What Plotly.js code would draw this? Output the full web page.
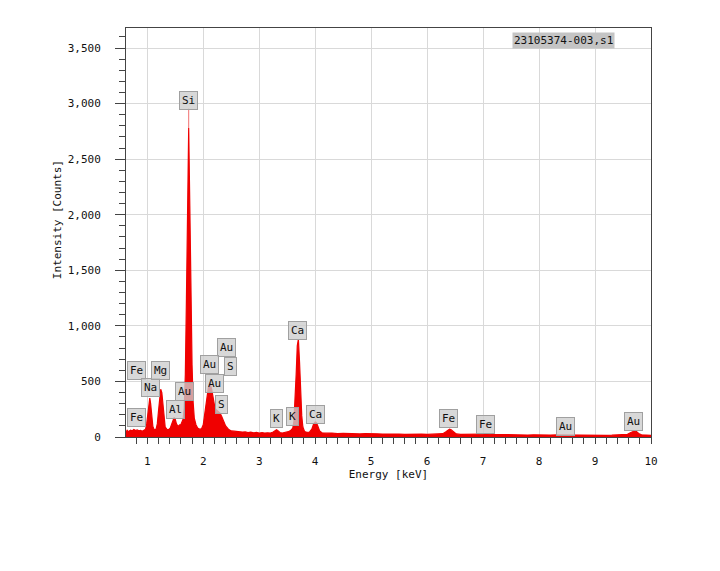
<!DOCTYPE html>
<html>
<head>
<meta charset="utf-8">
<script src="https://cdn.plot.ly/plotly-3.0.1.min.js"></script>
<style>
  html, body { margin: 0; padding: 0; background: #fff; }
  #canvas { width: 720px; height: 571px; }
</style>
</head>
<body>
<div id="canvas"></div>
<script>
// spectrum (energy in keV, intensity in counts)
const energy = [
    0.62, 0.64, 0.66, 0.70, 0.73, 0.76, 0.79, 0.82, 0.85, 0.88, 0.91, 0.94, 0.97,
    0.99, 1.01, 1.03, 1.045, 1.06, 1.08, 1.10, 1.12, 1.14, 1.16,
    1.18, 1.20, 1.22, 1.24, 1.26, 1.28, 1.30, 1.32, 1.35, 1.38, 1.41,
    1.43, 1.46, 1.48, 1.50, 1.52, 1.55, 1.58,
    1.60, 1.64, 1.66, 1.68, 1.70, 1.72, 1.74, 1.76, 1.78, 1.80, 1.82, 1.84, 1.87, 1.90, 1.94,
    1.97, 2.00, 2.03, 2.06, 2.09, 2.12, 2.15, 2.18, 2.21, 2.24, 2.27, 2.30, 2.33, 2.36, 2.40, 2.45, 2.50,
    2.55, 2.60, 2.65, 2.70, 2.75, 2.80, 2.85, 2.90, 2.95, 3.00, 3.05, 3.10, 3.15, 3.20,
    3.25, 3.28, 3.31, 3.34, 3.37, 3.41, 3.45, 3.49, 3.52, 3.56, 3.58,
    3.60, 3.62, 3.64, 3.66, 3.68, 3.70, 3.72, 3.74, 3.76, 3.78, 3.81, 3.85, 3.90,
    3.94, 3.97, 4.00, 4.02, 4.05, 4.08, 4.12,
    4.2, 4.3, 4.4, 4.5, 4.6, 4.7, 4.8, 4.9, 5.0, 5.1, 5.2, 5.3, 5.4, 5.5, 5.6, 5.7, 5.8, 5.9, 6.0, 6.1, 6.2,
    6.28, 6.33, 6.37, 6.40, 6.43, 6.47, 6.52,
    6.6, 6.7, 6.8, 6.9, 7.0, 7.05, 7.1, 7.2, 7.3, 7.4, 7.5, 7.6, 7.7, 7.8, 7.9, 8.0,
    8.1, 8.2, 8.3, 8.4, 8.5, 8.6, 8.7, 8.8, 8.9, 9.0, 9.1, 9.2, 9.3, 9.4, 9.5,
    9.58, 9.63, 9.68, 9.71, 9.74, 9.78, 9.83, 9.9, 10.0
];
const counts = [
    45, 60, 48, 62, 55, 68, 58, 64, 55, 60, 52, 58, 70,
    120, 230, 330, 350, 300, 170, 95, 70, 62, 75,
    120, 230, 360, 430, 400, 270, 150, 90, 70, 65, 80,
    110, 160, 175, 160, 120, 95, 110,
    110, 160, 260, 560, 1250, 2150, 2780, 2080, 1300, 650, 310, 170, 110, 80, 70,
    75, 110, 200, 330, 440, 490, 430, 330, 260, 240, 225, 215, 185, 150, 100, 70, 55,
    52, 48, 50, 44, 46, 40, 43, 38, 41, 36, 39, 35, 38, 36,
    45, 58, 66, 55, 40, 36, 40, 42, 48, 58, 65,
    80, 140, 300, 560, 820, 880, 680, 400, 190, 90, 50, 42, 45,
    70, 115, 135, 130, 95, 55, 38,
    34, 36, 31, 33, 30, 32, 28, 31, 27, 29, 26, 28, 25, 27, 24, 26, 24, 25, 23, 25, 24,
    30, 45, 62, 70, 64, 45, 28,
    23, 22, 24, 21, 25, 29, 24, 21, 22, 20, 21, 19, 20, 18, 20, 18,
    19, 17, 19, 18, 20, 17, 18, 16, 17, 16, 17, 15, 16, 17, 18,
    24, 38, 52, 56, 50, 32, 20, 16, 15
];

// peak labels
const peakNames = ["Fe", "Fe", "Na", "Mg", "Al", "Au", "Si", "Au", "Au", "S", "Au", "S",
                   "K", "K", "Ca", "Ca", "Fe", "Fe", "Au", "Au"];
const peakLabelE = [0.80, 0.80, 1.05, 1.23, 1.50, 1.67, 1.74, 2.42, 2.11, 2.48, 2.20, 2.33,
                    3.31, 3.59, 3.69, 4.00, 6.39, 7.05, 8.47, 9.69];
const peakLabelY = [600, 178, 443, 600, 250, 410, 3026, 802, 650, 636, 478, 290,
                    164, 187, 960, 205, 167, 110, 95, 137];

const sampleName = "23105374-003,s1";

const xTicks = [1, 2, 3, 4, 5, 6, 7, 8, 9, 10];
const yTicks = [0, 500, 1000, 1500, 2000, 2500, 3000, 3500];

const FONT = "DejaVu Sans Mono, monospace";
const RED = "#f00000";

var getPlotData = () => [{
    x: energy,
    y: counts,
    mode: "lines",
    fill: "tozeroy",
    fillcolor: RED,
    line: { color: RED, width: 1.2 },
    hoverinfo: "skip",
}];

// thin leader from the tallest peak up to its label
function leaderShape() {
    let top = Math.max(...counts);
    let e = energy[counts.indexOf(top)];
    let i = peakLabelE.indexOf(e);
    let labelY = i >= 0 ? peakLabelY[i] : top;
    return {
        type: "line", xref: "x", yref: "y",
        x0: e, x1: e, y0: top, y1: labelY - 70,
        line: { color: "#f07070", width: 1 },
        layer: "below",
    };
}

var peakAnnotations = () => peakNames.map((name, i) => ({
    x: peakLabelE[i],
    y: peakLabelY[i],
    xref: "x",
    yref: "y",
    text: name,
    showarrow: false,
    xanchor: "center",
    yanchor: "middle",
    bgcolor: "rgba(205,205,205,0.78)",
    bordercolor: "#a0a0a0",
    borderwidth: 1,
    borderpad: 2,
    font: { family: FONT, size: 11, color: "#111" },
}));

var getPlotLayout = () => ({
    width: 720,
    height: 571,
    margin: { l: 126, r: 68.5, t: 28, b: 133.7 },
    paper_bgcolor: "#ffffff",
    plot_bgcolor: "#ffffff",
    showlegend: false,
    font: { family: FONT, size: 11, color: "#111" },
    xaxis: {
        range: [0.62, 10],
        tickvals: xTicks,
        ticktext: xTicks.map(String),
        ticks: "outside",
        ticklen: 6,
        tickcolor: "#444",
        ticklabelstandoff: 8,
        showgrid: true,
        gridcolor: "#d9d9d9",
        zeroline: false,
        showline: true,
        linecolor: "#444",
        mirror: true,
        minor: { dtick: 0.2, tick0: 0, ticks: "outside", ticklen: 6, tickcolor: "#444", showgrid: false },
        title: { text: "Energy [keV]", font: { family: FONT, size: 11 }, standoff: 2 },
        tickfont: { family: FONT, size: 11 },
    },
    yaxis: {
        range: [0, 3680],
        tickvals: yTicks,
        ticktext: yTicks.map((v) => v.toLocaleString("en-US")),
        ticks: "outside",
        ticklen: 10,
        tickcolor: "#444",
        ticklabelstandoff: 12,
        showgrid: true,
        gridcolor: "#d9d9d9",
        zeroline: false,
        showline: true,
        linecolor: "#444",
        mirror: true,
        minor: { dtick: 100, tick0: 0, ticks: "outside", ticklen: 6, tickcolor: "#444", showgrid: false },
        tickfont: { family: FONT, size: 11 },
    },
    shapes: [leaderShape()],
    annotations: peakAnnotations().concat([
        {
            // y title sits a bit above the middle in the original
            x: 0, y: 0.53, xref: "paper", yref: "paper",
            xshift: -69,
            text: "Intensity [Counts]",
            textangle: -90,
            showarrow: false,
            xanchor: "center", yanchor: "middle",
            font: { family: FONT, size: 11, color: "#111" },
        },
        {
            x: 0.833, y: 0.9695, xref: "paper", yref: "paper",
            text: sampleName,
            showarrow: false,
            xanchor: "center", yanchor: "middle",
            bgcolor: "#c4c4c4",
            borderpad: 1,
            font: { family: FONT, size: 11, color: "#111" },
        },
    ]),
});

Plotly.newPlot("canvas", getPlotData(), getPlotLayout(), { staticPlot: true });
</script>
</body>
</html>
